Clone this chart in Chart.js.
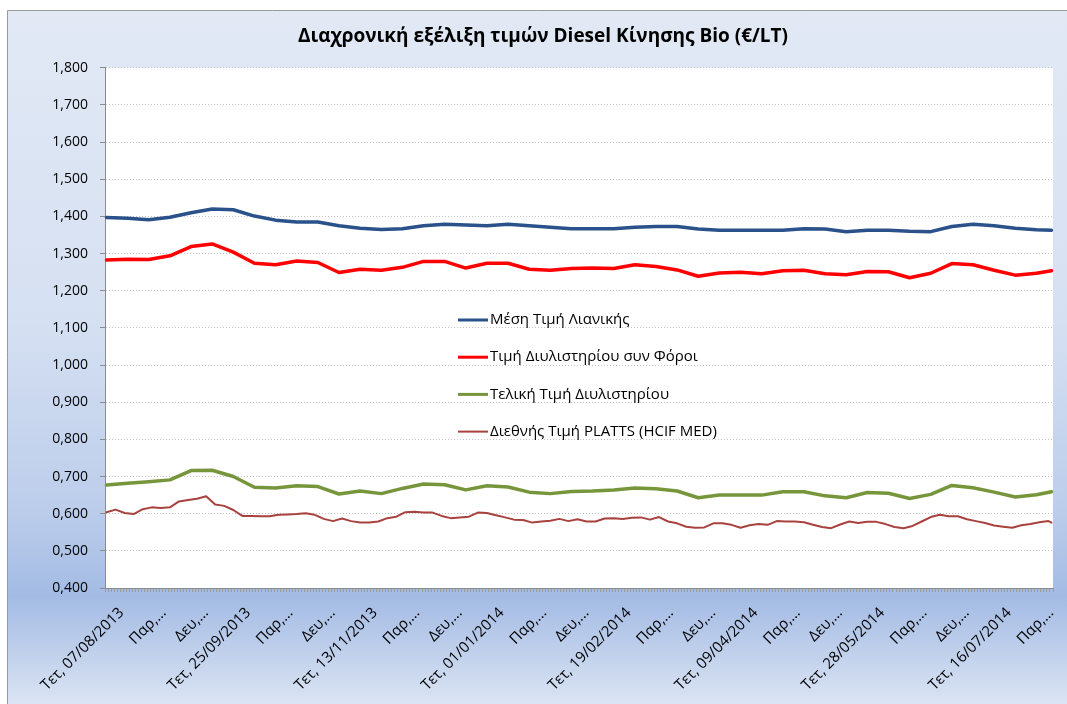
<!DOCTYPE html>
<html>
<head>
<meta charset="utf-8">
<script src="https://cdn.jsdelivr.net/npm/chart.js@4.4.1/dist/chart.umd.min.js"></script>
<style>
  html, body { margin: 0; padding: 0; background: #fff; }
  #wrap { width: 1067px; height: 704px; }
</style>
</head>
<body>
<div id="wrap"><canvas id="grafica"></canvas></div>
<script>
const chartTitle = 'Διαχρονική εξέλιξη τιμών Diesel Κίνησης Bio (€/LT)';
const seriesNames = ['Μέση Τιμή Λιανικής', 'Τιμή Διυλιστηρίου συν Φόροι', 'Τελική Τιμή Διυλιστηρίου', 'Διεθνής Τιμή PLATTS (HCIF MED)'];

// one tick label every 14 days (Mon-Sat data)
const tickLabels = ['Τετ, 07/08/2013', 'Παρ,...', 'Δευ,...', 'Τετ, 25/09/2013', 'Παρ,...', 'Δευ,...',
  'Τετ, 13/11/2013', 'Παρ,...', 'Δευ,...', 'Τετ, 01/01/2014', 'Παρ,...', 'Δευ,...',
  'Τετ, 19/02/2014', 'Παρ,...', 'Δευ,...', 'Τετ, 09/04/2014', 'Παρ,...', 'Δευ,...',
  'Τετ, 28/05/2014', 'Παρ,...', 'Δευ,...', 'Τετ, 16/07/2014', 'Παρ,...'];
const dayCount = 314;
const labelEvery = 14;
const lastDay = 313;

// read every 7th day (+ last day)
const retail = [1.397, 1.395, 1.391, 1.398, 1.410, 1.420, 1.418, 1.401, 1.390, 1.385, 1.385, 1.375, 1.368, 1.365, 1.367,
  1.375, 1.379, 1.377, 1.375, 1.379, 1.375, 1.371, 1.367, 1.367, 1.367, 1.371, 1.373, 1.373, 1.366, 1.363,
  1.363, 1.363, 1.363, 1.367, 1.366, 1.359, 1.363, 1.363, 1.360, 1.359, 1.373, 1.379, 1.375, 1.368, 1.364, 1.363];
const refineryTaxes = [1.283, 1.285, 1.284, 1.294, 1.319, 1.326, 1.304, 1.274, 1.270, 1.280, 1.276, 1.249, 1.258, 1.255, 1.263,
  1.279, 1.279, 1.261, 1.274, 1.274, 1.258, 1.255, 1.260, 1.261, 1.260, 1.270, 1.265, 1.256, 1.239, 1.248,
  1.250, 1.246, 1.254, 1.255, 1.246, 1.243, 1.252, 1.251, 1.235, 1.247, 1.273, 1.270, 1.255, 1.242, 1.247, 1.254];
const refineryFinal = [0.677, 0.682, 0.686, 0.691, 0.716, 0.717, 0.700, 0.671, 0.669, 0.675, 0.673, 0.653, 0.661, 0.654, 0.668,
  0.680, 0.678, 0.664, 0.675, 0.672, 0.658, 0.654, 0.660, 0.661, 0.664, 0.669, 0.667, 0.661, 0.643, 0.650,
  0.650, 0.650, 0.659, 0.659, 0.648, 0.643, 0.657, 0.655, 0.641, 0.652, 0.676, 0.670, 0.658, 0.645, 0.651, 0.659];
// PLATTS is noisier, read every 3rd day (+ last day)
const platts = [0.604, 0.611, 0.602, 0.599, 0.612, 0.617, 0.615, 0.617, 0.633, 0.637, 0.640, 0.647, 0.625, 0.621, 0.610,
  0.594, 0.594, 0.593, 0.593, 0.597, 0.598, 0.599, 0.601, 0.597, 0.586, 0.580, 0.587, 0.580, 0.576, 0.576,
  0.579, 0.588, 0.592, 0.604, 0.605,
  0.603, 0.603, 0.594, 0.588, 0.590, 0.592, 0.603, 0.602, 0.596, 0.590, 0.584, 0.583, 0.576, 0.579, 0.581,
  0.586, 0.580, 0.585, 0.579, 0.579, 0.587, 0.588, 0.586, 0.589, 0.590, 0.584, 0.591, 0.579, 0.574, 0.565,
  0.562, 0.563, 0.574, 0.574,
  0.570, 0.562, 0.569, 0.572, 0.570, 0.580, 0.579, 0.579, 0.577, 0.570, 0.564, 0.561, 0.571, 0.579, 0.575,
  0.578, 0.578, 0.572, 0.564, 0.561, 0.567, 0.579, 0.591, 0.597, 0.593, 0.593, 0.585, 0.580, 0.575, 0.568,
  0.565, 0.562, 0.569, 0.572, 0.577, 0.580, 0.576];
const sampleSteps = [7, 7, 7, 3];

const colors = ['#2a5189', '#ff0000', '#77963c', '#a8423f'];
const widths = [3.5, 3.5, 3.5, 2];

const fontFamily = '"Open Sans", "Noto Sans", sans-serif';
Chart.defaults.font.family = fontFamily;

// category labels: text only on every 14th day
const categories = [];
for (let i = 0; i < dayCount; i++) {
    categories.push(i % labelEvery === 0 && tickLabels[i / labelEvery] ? tickLabels[i / labelEvery] : '');
}

function toDays(values, step) {
    const arr = new Array(dayCount).fill(null);
    values.forEach((v, k) => {
        arr[Math.min(k * step, lastDay)] = v;
    });
    return arr;
}

const backgroundPlugin = {
    id: 'fondo',
    beforeDraw(chart) {
        const ctx = chart.ctx;
        const w = chart.width, h = chart.height;
        ctx.save();
        ctx.fillStyle = '#ffffff';
        ctx.fillRect(0, 0, w, h);
        const g = ctx.createLinearGradient(0, 10, 0, h);
        g.addColorStop(0, '#e2e9f5');
        g.addColorStop(0.45, '#d5e0f2');
        g.addColorStop(0.72, '#bccdeb');
        g.addColorStop(0.845, '#a3bbe4');
        g.addColorStop(1, '#dbe4f3');
        ctx.fillStyle = g;
        ctx.fillRect(7, 10, w, h);
        ctx.strokeStyle = '#9a9a9a';
        ctx.lineWidth = 1;
        ctx.beginPath();
        ctx.moveTo(7.5, h);
        ctx.lineTo(7.5, 10.5);
        ctx.lineTo(w, 10.5);
        ctx.stroke();
        const a = chart.chartArea;
        ctx.fillStyle = '#ffffff';
        ctx.fillRect(a.left, a.top, a.right - a.left, a.bottom - a.top);
        ctx.restore();
    }
};

const legendPlugin = {
    id: 'leyendaInterna',
    afterDatasetsDraw(chart) {
        const ctx = chart.ctx;
        const x0 = chart.chartArea.left + 353;
        ctx.save();
        ctx.font = '15px ' + fontFamily;
        ctx.textBaseline = 'middle';
        ctx.textAlign = 'left';
        chart.data.datasets.forEach((ds, i) => {
            const y = 320 + i * 37.2;
            ctx.strokeStyle = ds.borderColor;
            ctx.lineWidth = i === 3 ? 2 : 3;
            ctx.beginPath();
            ctx.moveTo(x0, y);
            ctx.lineTo(x0 + 30, y);
            ctx.stroke();
            ctx.fillStyle = '#000';
            ctx.fillText(ds.label, x0 + 32, y);
        });
        ctx.restore();
    }
};

const seriesValues = [retail, refineryTaxes, refineryFinal, platts];

new Chart(document.getElementById('grafica'), {
    type: 'line',
    data: {
        labels: categories,
        datasets: seriesValues.map((vals, i) => ({
            label: seriesNames[i],
            data: toDays(vals, sampleSteps[i]),
            borderColor: colors[i],
            backgroundColor: colors[i],
            borderWidth: widths[i],
            pointRadius: 0,
            tension: 0,
            spanGaps: true,
            borderJoinStyle: 'round',
            borderCapStyle: 'round'
        }))
    },
    options: {
        responsive: true,
        maintainAspectRatio: false,
        animation: false,
        layout: { padding: { left: 33, right: 14, top: 0, bottom: 0 } },
        plugins: {
            legend: { display: false },
            tooltip: { enabled: false },
            title: {
                display: true,
                text: chartTitle,
                color: '#000',
                font: { size: 19, weight: 'bold' },
                padding: { top: 25, bottom: 20 }
            }
        },
        scales: {
            x: {
                type: 'category',
                offset: true,
                afterFit: s => { s.height = 116; s.paddingLeft = 0; s.paddingRight = 0; },
                grid: { display: true, drawOnChartArea: false, drawTicks: true, tickLength: 4, tickColor: '#9a9a9a', offset: true },
                border: { display: true, color: '#8c8c8c', width: 1 },
                ticks: {
                    autoSkip: false,
                    minRotation: 45,
                    maxRotation: 45,
                    padding: 12,
                    labelOffset: 15,
                    color: '#000',
                    font: { size: 15 }
                }
            },
            y: {
                min: 0.4,
                max: 1.8,
                afterFit: s => { s.width = 72; },
                grid: { color: '#c4c4c4', tickLength: 5, tickColor: '#8c8c8c', tickBorderDash: [] },
                border: { display: true, color: '#8c8c8c', width: 1, dash: [1, 2] },
                ticks: {
                    stepSize: 0.1,
                    padding: 12,
                    color: '#000',
                    font: { size: 14 },
                    callback: v => v.toFixed(3).replace('.', ',')
                }
            }
        }
    },
    plugins: [backgroundPlugin, legendPlugin]
});
</script>
</body>
</html>
